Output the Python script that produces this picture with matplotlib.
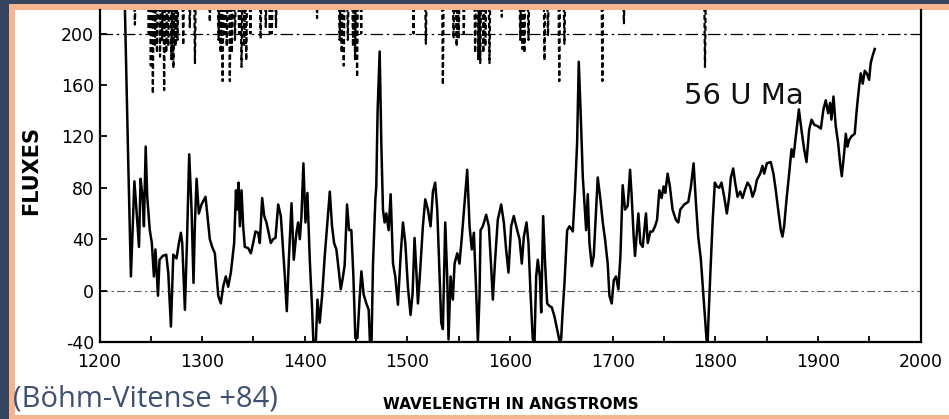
import numpy as np
import matplotlib
matplotlib.use("Agg")
import matplotlib.pyplot as plt
from matplotlib.patches import Rectangle

# 56 UMa IUE spectrum
wave = [1223.5, 1224.8, 1228, 1230.6, 1234, 1236, 1238.5, 1240, 1242, 1243.3, 1245, 1246.5,
        1249, 1251, 1253, 1254.5, 1257, 1258.5, 1261.7, 1265, 1267, 1269.6, 1271.9, 1275,
        1277.4, 1279.3, 1280.6, 1283.2, 1285.2, 1287.4, 1289.7, 1291.6, 1292.9, 1294.6,
        1296.8, 1299.4, 1303.3, 1307.5, 1309.8, 1312.4, 1315.7, 1318.2, 1320.5, 1323.1,
        1325.4, 1328, 1331.2, 1333, 1334, 1335.5, 1336.8, 1338.4, 1340, 1341.6, 1344.9,
        1347.5, 1349.7, 1352, 1354.6, 1356.2, 1358.5, 1360.5, 1362.7, 1364.3, 1366.9,
        1369.2, 1371.5, 1374.1, 1376.7, 1378.9, 1380.6, 1382.5, 1384.5, 1387.1, 1389.3,
        1391.9, 1393.5, 1395.2, 1396.8, 1398.7, 1400.7, 1402.6, 1404.9, 1407.2, 1408.8,
        1410.4, 1412.4, 1414.6, 1416.9, 1419.5, 1422.1, 1424.4, 1426.6, 1428.6, 1430.8,
        1433.1, 1435.1, 1437.3, 1438.9, 1441.2, 1443.2, 1445.4, 1447.4, 1449.3, 1451.3,
        1453.6, 1455.2, 1457.4, 1460, 1462.3, 1463.9, 1464.9, 1466.5, 1468.8,
        1469.7, 1471, 1473, 1474.6, 1476.2, 1477.8, 1479.5, 1481.7, 1483.7, 1486, 1488.2,
        1490.8, 1493.4, 1495.7, 1498, 1500.5, 1503.1, 1505.1, 1507, 1508.7, 1510.3, 1512.5,
        1515.1, 1517.4, 1520, 1522.6, 1524.9, 1527.1, 1529.1, 1531.4, 1533, 1534.6, 1536.9,
        1538.8, 1540.1, 1542.1, 1544.3, 1546, 1548.6, 1550.8, 1553.1, 1555.7, 1558.3,
        1560.6, 1562.8, 1564.8, 1567.1, 1568.7, 1570.3, 1571.3, 1573.5, 1576.8, 1579.4,
        1581.6, 1583.3, 1585.5, 1588.1, 1591.4, 1594, 1596.2, 1598.5, 1601.1, 1603.7,
        1607, 1609.3, 1611.5, 1613.5, 1616.1, 1618, 1620, 1622.2, 1623.9, 1625.5, 1627.1,
        1629.1, 1630.4, 1632.3, 1634.2, 1636.2, 1638.5, 1640.7, 1643.3, 1645.9, 1648.2,
        1649.8, 1651.4, 1653.1, 1655.7, 1657.9, 1661.2, 1663.4, 1665.4, 1667, 1669.3,
        1670.9, 1672.5, 1674.2, 1675.8, 1677.4, 1679.7, 1681.6, 1683.9, 1685.5, 1688.1,
        1690.4, 1692.6, 1695.2, 1696.9, 1699.1, 1701.1, 1703.3, 1705.6, 1707.6, 1709.8,
        1712.1, 1714.7, 1717, 1718.6, 1720.5, 1721.8, 1723.8, 1725.1, 1727, 1729.3,
        1730.9, 1732.5, 1734.2, 1736.8, 1739, 1741.3, 1743.3, 1745.5, 1747.7, 1749.7,
        1751.3, 1753.6, 1755.8, 1758.4, 1761.7, 1764, 1765.9, 1769.8, 1773.7, 1776.3,
        1778.9, 1781.2, 1783.4, 1786, 1788.3, 1789.9, 1791.5, 1792.5, 1793.5, 1795.1,
        1797.4, 1799.6, 1801.6, 1803.9, 1806.1, 1808.7, 1811.3, 1813.6, 1815.2, 1817.5,
        1819.4, 1821.7, 1824.3, 1826.6, 1828.8, 1831.4, 1834, 1836.3, 1838.6, 1840.5,
        1843.8, 1846, 1847.7, 1850.3, 1854.1, 1856.7, 1859, 1861.3, 1863.9, 1865.5,
        1867.1, 1869.7, 1872, 1874.3, 1876.2, 1878.5, 1881.5, 1884, 1886.6, 1888.9,
        1891.5, 1893.8, 1896.4, 1899.6, 1902.9, 1905.4, 1907.7, 1910, 1911.9, 1913.2,
        1915.2, 1917.4, 1919.7, 1921.7, 1923.3, 1925.6, 1927.2, 1928.8, 1930.4, 1932.7,
        1935.9, 1937.9, 1940.2, 1941.8, 1943.7, 1945.7, 1947.6, 1949.9, 1951.5, 1953.1,
        1955.4]
flux = [240, 218, 100, 11, 85, 63, 34, 87, 73, 50, 112, 73,
        47, 37, 11, 32, -4, 24, 27, 28, 14, -28, 28, 25,
        37, 45, 37, -15, 37, 106, 63, 6, 50, 87,
        60, 67, 73, 40, 34, 29, -4, -10, 3, 11,
        3, 14, 37, 78, 63, 84, 50, 78, 50, 34, 33,
        29, 37, 46, 45, 37, 72, 58, 53, 47, 37,
        40, 41, 67, 58, 32, 11, -16, 24, 68, 24,
        45, 53, 40, 58, 99, 53, 76, 24, -15, -48,
        -48, -7, -25, -4, 27, 53, 77, 50, 37, 32,
        16, 1, 11, 20, 67, 47, 47, 11, -37, -37,
        -4, 15, -3, -10, -15, -48, -48, 21, 71,
        81, 140, 186, 115, 63, 53, 60, 47, 75, 21, 11,
        -11, 27, 53, 37, 3, -19, -2, 41, 16, -10, 16,
        50, 71, 63, 50, 77, 84, 63, 11, -25, -30, 53,
        11, -38, 11, -7, 21, 29, 21, 42, 68, 94,
        50, 32, 45, -2, -40, -4, 47, 50, 59, 50,
        19, -7, 24, 55, 67, 53, 32, 14, 50, 58,
        47, 40, 21, 42, 53, 37, -2, -38, -40, 11, 24,
        11, -17, 58, 21, -10, -12, -13, -20, -30, -39,
        -38, -15, 6, 47, 50, 46, 78, 115, 178, 128,
        89, 68, 47, 75, 37, 19, 27, 63, 88, 71,
        53, 40, 21, -4, -10, 8, 11, 1, 27, 82,
        63, 66, 94, 73, 42, 27, 47, 60, 37, 34,
        47, 60, 37, 46, 46, 50, 55, 78, 72, 81,
        76, 91, 81, 63, 55, 53, 63, 67, 69, 81,
        99, 68, 42, 24, -2, -20, -38, -42, -20, 11,
        53, 84, 81, 80, 84, 73, 60, 73, 88, 95,
        84, 73, 77, 72, 78, 84, 81, 73, 78, 86,
        91, 97, 91, 99, 100, 91, 78, 63, 47, 42,
        50, 73, 91, 110, 104, 120, 141, 125, 110, 100,
        125, 133, 129, 128, 126, 141, 148, 138, 146, 133,
        151, 128, 115, 99, 89, 107, 122, 112, 117, 120,
        122, 141, 159, 169, 161, 171, 169, 164, 177, 182,
        188]

# second (dashed) spectrum: only its absorption dips reach below the top of the frame
dip_x = [1234.5, 1248, 1250, 1252, 1254, 1256, 1259, 1261, 1263, 1265, 1267, 1270, 1272,
         1274, 1276, 1281.6, 1288, 1293, 1307.5, 1316, 1318, 1320, 1322, 1324, 1327, 1329,
         1332, 1336, 1338.4, 1341, 1343, 1347, 1357, 1362, 1366, 1368, 1372, 1412, 1434,
         1436, 1438, 1442, 1447, 1449, 1451, 1455, 1506, 1518, 1534.6, 1545, 1548, 1550,
         1555, 1566, 1569, 1571, 1574, 1576, 1580, 1592, 1610, 1612, 1614, 1618, 1633.6,
         1637, 1648, 1653, 1690, 1711, 1790]
dip_min = [207, 200, 175, 153, 190, 185, 182, 195, 156, 185, 190, 180, 173,
           190, 195, 191, 205, 177, 209, 195, 185, 163, 200, 190, 163, 185,
           195, 200, 174, 190, 179, 200, 196, 205, 200, 200, 205, 212, 195,
           185, 175, 195, 190, 180, 166, 200, 200, 192, 160, 196, 190, 196,
           200, 185, 180, 177, 185, 190, 177, 213, 195, 188, 185, 195, 179,
           198, 163, 192, 163, 208, 174]

yticks = [-40, 0, 40, 80, 120, 160, 200]
xticks = [1200, 1300, 1400, 1500, 1600, 1700, 1800, 1900, 2000]

W, H = 949, 419
fig = plt.figure(figsize=(W / 100, H / 100), dpi=100, facecolor='#34445e')
fig.add_artist(Rectangle((9 / W, 0), 1, 415 / H, transform=fig.transFigure,
                         facecolor='#f6b48f', edgecolor='none', zorder=0))
fig.add_artist(Rectangle((15 / W, 4 / H), 1, 405 / H, transform=fig.transFigure,
                         facecolor='white', edgecolor='none', zorder=0))

ax = fig.add_axes([99.5 / W, 77 / H, 821 / W, 332 / H])
ax.set_facecolor('white')

ax.axhline(200, color='k', lw=0.9, ls=(0, (10, 3, 2, 3)), zorder=1)
ax.axhline(0, color='0.35', lw=0.8, ls=(0, (7, 3, 2, 3)), zorder=1)

dx, dy = [], []
for c, m in zip(dip_x, dip_min):
    dx += [c - 0.8, c, c + 0.8]
    dy += [235, m, 235]
ax.plot(dx, dy, color='k', lw=1.6, ls=(0, (2.2, 1.4)), zorder=2)

ax.plot(wave, flux, color='k', lw=1.8, zorder=3)

ax.set_xlim(1200, 2000)
ax.set_ylim(-40, 218.3)
ax.set_xticks(xticks)
ax.set_xticks(np.arange(1250, 2000, 100), minor=True)
ax.set_yticks(yticks)
ax.set_yticklabels(['-40', '0', '40', '80', '120', '160', '200'])

for side in ['left', 'bottom', 'right']:
    ax.spines[side].set_linewidth(1.6)
ax.spines['top'].set_visible(False)

ax.tick_params(axis='x', which='both', direction='in', length=4, width=1.3, pad=8,
               labelsize=12.5, top=False)
ax.tick_params(axis='y', which='both', direction='in', length=5, width=1.3, pad=4,
               labelsize=12.5, right=False)
for lab in ax.get_xticklabels() + ax.get_yticklabels():
    lab.set_family('DejaVu Sans')

ax.text(1769.8, 151.5, '56 U Ma', fontsize=21, ha='left', va='center',
        family='DejaVu Sans', color='#111111')

fig.text(31 / W, 249 / H, 'FLUXES', rotation=90, ha='center', va='center',
         fontsize=15, fontweight='bold', family='DejaVu Sans')
fig.text(511 / W, 15 / H, 'WAVELENGTH IN ANGSTROMS', ha='center', va='center',
         fontsize=11, fontweight='bold', family='DejaVu Sans')
fig.text(13 / W, 20 / H, '(Böhm-Vitense +84)', ha='left', va='center',
         fontsize=21, color='#3d5072', family='Open Sans')

fig.savefig('out.png', dpi=100, facecolor=fig.get_facecolor())
